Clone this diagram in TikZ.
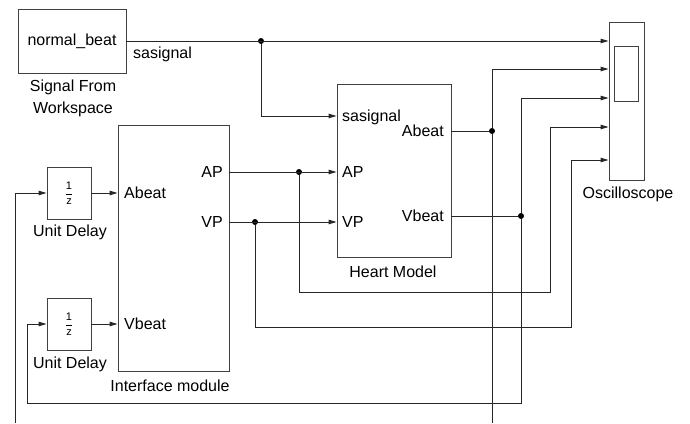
\documentclass[tikz,border=0pt]{standalone}
\usepackage{fontspec}
\setmainfont{Liberation Sans}
\usetikzlibrary{arrows.meta}
\begin{document}
\begin{tikzpicture}[
        x=1pt, y=-1pt,
        font=\fontsize{16}{22}\selectfont,
        block/.style={draw=black!75, line width=0.9pt, inner sep=0pt},
        delay/.style={block, minimum width=44pt, minimum height=52pt, font=\fontsize{11}{12}\selectfont},
        port/.style={inner sep=0pt, text height=11.5pt, text depth=0pt},
        caption/.style={inner sep=0pt, align=center},
        wire/.style={-{Triangle[length=8pt,width=4.5pt]}, line width=0.9pt, draw=black!85},
        line/.style={line width=0.9pt, draw=black!85},
        junction/.style={circle, fill=black, inner sep=0pt, minimum size=6pt}
    ]
        \useasboundingbox (0,0) rectangle (690,423);

        \node[block, minimum width=108pt, minimum height=64pt] (sfw) at (72,41) {normal\_beat};
        \node[caption] (sfwcap) at (73,98.5) {Signal From\\Workspace};
        \node[port, anchor=west] (sfwsig) at (133,53) {sasignal};

        \node[delay] (d1) at (69,193) {$\displaystyle\frac{\mbox{1}}{\mbox{z}}$};
        \node[port] (d1cap) at (70,231) {Unit Delay};
        \node[delay] (d2) at (69,324) {$\displaystyle\frac{\mbox{1}}{\mbox{z}}$};
        \node[port] (d2cap) at (70,363) {Unit Delay};

        \node[block, minimum width=111pt, minimum height=246pt] (iface) at (173.5,248) {};
        \node[port] (ifacecap) at (170,386) {Interface module};
        \node[port, anchor=west] (ifAb) at (124,193) {Abeat};
        \node[port, anchor=west] (ifVb) at (124,324) {Vbeat};
        \node[port, anchor=east] (ifAP) at (223,172) {AP};
        \node[port, anchor=east] (ifVP) at (223,222) {VP};

        \node[block, minimum width=114pt, minimum height=173pt] (heart) at (394,170.5) {};
        \node[port] (heartcap) at (393,272) {Heart Model};
        \node[port, anchor=west] (hmSa) at (342,116) {sasignal};
        \node[port, anchor=west] (hmAP) at (342,172) {AP};
        \node[port, anchor=west] (hmVP) at (342,222) {VP};
        \node[port, anchor=east] (hmAb) at (444,131) {Abeat};
        \node[port, anchor=east] (hmVb) at (444,216) {Vbeat};

        \node[block, minimum width=35pt, minimum height=158pt] (scope) at (626.5,101) {};
        \node[block, minimum width=24pt, minimum height=55pt] (screen) at (626,73.5) {};
        \node[port] (scopecap) at (628,193) {Oscilloscope};

        \coordinate (s1) at (scope.west |- 0,41);
        \coordinate (s2) at (scope.west |- 0,69);
        \coordinate (s3) at (scope.west |- 0,98);
        \coordinate (s4) at (scope.west |- 0,127);
        \coordinate (s5) at (scope.west |- 0,160);
        \coordinate (bendAP) at (550,292);
        \coordinate (bendVP) at (571,327);
        \coordinate (bendVb) at (27,403);
        \coordinate (botA) at (492,423);
        \coordinate (botL) at (15,423);

        \node[junction] (j1) at (261,41) {};
        \node[junction] (j2) at (299,172) {};
        \node[junction] (j3) at (255,222) {};
        \node[junction] (j4) at (492,131) {};
        \node[junction] (j5) at (521,216) {};

        \draw[wire] (sfw.east) -- (s1);
        \draw[wire] (j1) |- (heart.west |- hmSa);
        \draw[wire] (iface.east |- ifAP) -- (heart.west |- hmAP);
        \draw[wire] (iface.east |- ifVP) -- (heart.west |- hmVP);
        \draw[wire] (j2) |- (bendAP) |- (s4);
        \draw[wire] (j3) |- (bendVP) |- (s5);
        \draw[line] (heart.east |- hmAb) -- (j4);
        \draw[wire] (j4) |- (s2);
        \draw[line] (j4) -- (botA);
        \draw[wire] (botL) |- (d1.west);
        \draw[line] (heart.east |- hmVb) -- (j5);
        \draw[wire] (j5) |- (s3);
        \draw[wire] (j5) |- (bendVb) |- (d2.west);
        \draw[wire] (d1.east) -- (iface.west |- d1.east);
        \draw[wire] (d2.east) -- (iface.west |- d2.east);
    \end{tikzpicture}
\end{document}
